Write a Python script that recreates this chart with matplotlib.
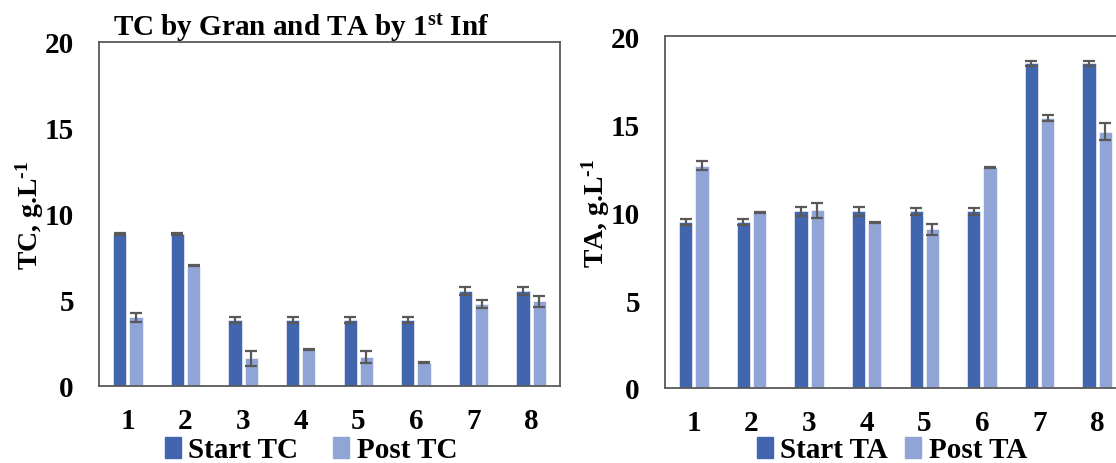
import numpy as np
import matplotlib
matplotlib.use('Agg')
from matplotlib import pyplot as plt
from matplotlib.patches import Patch

# data
groups = ['1', '2', '3', '4', '5', '6', '7', '8']

start_tc = [8.84, 8.84, 3.84, 3.84, 3.84, 3.84, 5.54, 5.54]
start_tc_err = [0.05, 0.05, 0.15, 0.15, 0.15, 0.15, 0.24, 0.24]
post_tc = [4.0, 7.0, 1.61, 2.11, 1.67, 1.34, 4.77, 4.92]
post_tc_err = [0.25, 0.03, 0.42, 0.03, 0.34, 0.03, 0.21, 0.32]

start_ta = [9.45, 9.45, 10.04, 10.04, 10.04, 10.04, 18.45, 18.45]
start_ta_err = [0.17, 0.17, 0.27, 0.27, 0.2, 0.2, 0.15, 0.15]
post_ta = [12.63, 9.98, 10.1, 9.38, 9.03, 12.54, 15.32, 14.56]
post_ta_err = [0.26, 0.03, 0.43, 0.03, 0.31, 0.03, 0.17, 0.47]

dark = '#4166ae'
light = '#90a5d5'
grey = '#595959'

plt.rcParams['font.family'] = ['Liberation Serif', 'DejaVu Serif']
plt.rcParams['font.weight'] = 'bold'
plt.rcParams['axes.labelweight'] = 'bold'
plt.rcParams['mathtext.fontset'] = 'custom'
plt.rcParams['mathtext.rm'] = 'Liberation Serif:bold'
plt.rcParams['mathtext.bf'] = 'Liberation Serif:bold'
plt.rcParams['mathtext.default'] = 'bf'

fig = plt.figure(figsize=(11.16, 4.64), dpi=100)
ax1 = fig.add_axes([99 / 1116, 1 - 387 / 464, 461 / 1116, 344 / 464])
ax2 = fig.add_axes([665 / 1116, 1 - 389 / 464, 461 / 1116, 352 / 464])


def draw(ax, s, s_err, p, p_err, ylabel, names, colsp, leg_xy):
    x = np.arange(len(groups))
    w = 0.23
    ekw = dict(ecolor=grey, elinewidth=1.6, capthick=1.6)
    ax.bar(x - 0.14, s, w, color=dark, edgecolor='white', linewidth=0.4,
           yerr=s_err, capsize=4.5, error_kw=ekw)
    ax.bar(x + 0.14, p, w, color=light, edgecolor='white', linewidth=0.4,
           yerr=p_err, capsize=4.5, error_kw=ekw)
    ax.set_xlim(-0.5, len(groups) - 0.5)
    ax.set_ylim(0, 20)
    ax.set_yticks([0, 5, 10, 15, 20])
    ax.set_xticks(x)
    ax.set_xticklabels(groups)
    ax.tick_params(length=0, labelsize=21)
    ax.tick_params(axis='x', pad=15)
    ax.tick_params(axis='y', pad=18)
    for sp in ax.spines.values():
        sp.set_color(grey)
        sp.set_linewidth(1.3)
    ax.set_ylabel(ylabel, fontsize=20, labelpad=-1)
    handles = [Patch(color=dark), Patch(color=light)]
    ax.legend(handles, names, loc='center', bbox_to_anchor=leg_xy,
              ncol=2, frameon=False, fontsize=21, handlelength=0.55,
              handleheight=0.75, handletextpad=0.25, columnspacing=colsp,
              borderpad=0)


draw(ax1, start_tc, start_tc_err, post_tc, post_tc_err,
     'TC, g.L$^{\\text{-}1}$', ['Start TC', 'Post TC'], 1.2, (0.46, -0.186))
draw(ax2, start_ta, start_ta_err, post_ta, post_ta_err,
     'TA, g.L$^{\\text{-}1}$', ['Start TA', 'Post TA'], 0.6, (0.492, -0.176))

fig.text(113 / 1116, 1 - 36 / 464, 'TC by Gran and TA by 1$^{st}$ Inf',
         fontsize=21, fontweight='bold', ha='left', va='baseline')

fig.savefig('out.png', dpi=100)
